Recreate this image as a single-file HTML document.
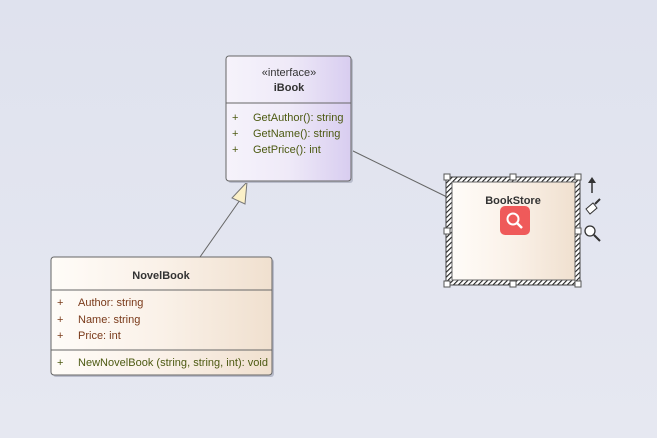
<!DOCTYPE html><html><head><style>body{margin:0}svg{display:block}text{font-family:"Liberation Sans",sans-serif;font-size:11px}</style></head><body>
<svg width="657" height="438" xmlns="http://www.w3.org/2000/svg">
<defs>
<linearGradient id="bg" x1="0" y1="0" x2="0" y2="1"><stop offset="0" stop-color="#dfe2ee"/><stop offset="1" stop-color="#e6e8f1"/></linearGradient>
<linearGradient id="pu" x1="0" y1="0" x2="1" y2="0"><stop offset="0" stop-color="#f6f3fb"/><stop offset="0.5" stop-color="#efeaf8"/><stop offset="1" stop-color="#d8cdf0"/></linearGradient>
<linearGradient id="be" x1="0" y1="0" x2="1" y2="0"><stop offset="0" stop-color="#fffcf8"/><stop offset="0.5" stop-color="#faf1e8"/><stop offset="1" stop-color="#f0e0cf"/></linearGradient>
<pattern id="h" width="3.5" height="3.5" patternUnits="userSpaceOnUse" patternTransform="rotate(45)"><rect width="3.5" height="3.5" fill="#fff"/><rect width="1.1" height="3.5" fill="#222"/></pattern>
</defs>
<rect width="657" height="438" fill="url(#bg)"/>
<line x1="351" y1="150" x2="447" y2="197" stroke="#666" stroke-width="1"/>
<line x1="240" y1="200" x2="200" y2="257" stroke="#666" stroke-width="1"/>
<polygon points="247,182 232,198 245,204" fill="#fbf0c8" stroke="#777"/>
<rect x="228" y="58" width="125" height="125" rx="3" fill="#b9bccb"/>
<rect x="226" y="56" width="125" height="125" rx="3" fill="url(#pu)" stroke="#666"/>
<line x1="226" y1="103" x2="351" y2="103" stroke="#666"/>
<text x="289" y="76" text-anchor="middle" fill="#333">«interface»</text>
<text x="289" y="91" text-anchor="middle" font-weight="bold" fill="#333">iBook</text>
<g fill="#4d5a12"><text x="232" y="121">+</text><text x="232" y="137">+</text><text x="232" y="153">+</text>
<text x="253" y="121">GetAuthor(): string</text><text x="253" y="137">GetName(): string</text><text x="253" y="153">GetPrice(): int</text></g>
<rect x="53" y="259" width="221" height="118" rx="3" fill="#b9bccb"/>
<rect x="51" y="257" width="221" height="118" rx="3" fill="url(#be)" stroke="#666"/>
<line x1="51" y1="290" x2="272" y2="290" stroke="#666"/>
<line x1="51" y1="350" x2="272" y2="350" stroke="#666"/>
<text x="161" y="279" text-anchor="middle" font-weight="bold" fill="#333">NovelBook</text>
<g fill="#7a3a1a"><text x="57" y="306">+</text><text x="57" y="323">+</text><text x="57" y="339">+</text>
<text x="78" y="306">Author: string</text><text x="78" y="323">Name: string</text><text x="78" y="339">Price: int</text></g>
<text x="57" y="366" fill="#4d5a12">+</text><text x="78" y="366" fill="#4d5a12" textLength="190">NewNovelBook (string, string, int): void</text>
<rect x="446" y="177" width="134" height="108" fill="url(#h)" stroke="#444"/>
<rect x="452" y="182" width="123" height="98" fill="url(#be)" stroke="#666"/>
<text x="513" y="204" text-anchor="middle" font-weight="bold" fill="#333">BookStore</text>
<rect x="500" y="206" width="30" height="29" rx="5" fill="#ef5a5a"/>
<circle cx="513" cy="219" r="5.5" fill="none" stroke="#fff" stroke-width="2"/>
<line x1="517" y1="223" x2="522" y2="228" stroke="#fff" stroke-width="2.5"/>
<g fill="#fff" stroke="#555"><rect x="444" y="174" width="6" height="6"/><rect x="510" y="174" width="6" height="6"/><rect x="575" y="174" width="6" height="6"/><rect x="444" y="228" width="6" height="6"/><rect x="575" y="228" width="6" height="6"/><rect x="444" y="281" width="6" height="6"/><rect x="510" y="281" width="6" height="6"/><rect x="575" y="281" width="6" height="6"/></g>
<line x1="592" y1="180" x2="592" y2="193" stroke="#333" stroke-width="1.5"/><polygon points="592,177 588,183 596,183" fill="#333"/>
<polygon points="586,209 593,203 597,208 590,214" fill="#fff" stroke="#333"/><line x1="595" y1="204" x2="600" y2="199" stroke="#333" stroke-width="2"/>
<circle cx="590" cy="231" r="5" fill="#fff" stroke="#333" stroke-width="1.3"/><line x1="594" y1="235" x2="600" y2="241" stroke="#333" stroke-width="2"/>
</svg></body></html>
